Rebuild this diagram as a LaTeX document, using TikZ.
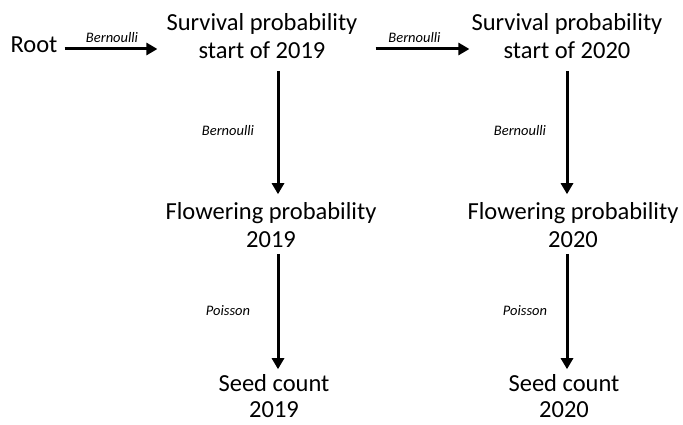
\documentclass[tikz,border=0pt]{standalone}
\usepackage{fontspec}
\setmainfont{Carlito}
\usetikzlibrary{arrows.meta}

\begin{document}
\begin{tikzpicture}[>={Triangle[length=11pt,width=12pt]},x=1pt,y=-1pt,
  lbl/.style={inner sep=0pt,align=center,font=\fontsize{24.5}{28}\selectfont},
  arr/.style={->,line width=3pt},
  dist/.style={font=\fontsize{14.5}{16}\selectfont\itshape}]
\useasboundingbox (0,0) rectangle (683,425);
\node[lbl] (root) at (34,45) {Root};
\node[lbl] (surv19) at (262,36) {Survival probability\\start of 2019};
\node[lbl] (surv20) at (567,36) {Survival probability\\start of 2020};
\node[lbl] (flow19) at (271,225) {Flowering probability\\2019};
\node[lbl] (flow20) at (573,225) {Flowering probability\\2020};
\node[lbl,font=\fontsize{24.5}{26}\selectfont] (seed19) at (274,396) {Seed count\\2019};
\node[lbl,font=\fontsize{24.5}{26}\selectfont] (seed20) at (564,396) {Seed count\\2020};
\coordinate (row) at (0,49);
\coordinate (col19) at (278,0);
\coordinate (col20) at (567,0);
% across
\draw[arr,shorten <=7pt,shorten >=9pt] (root.east |- row) -- (surv19.west |- row)
  node[dist,midway,above=2pt]{Bernoulli};
\draw[arr,shorten <=18pt,shorten >=2pt] (surv19.east |- row) -- (surv20.west |- row)
  node[dist,midway,above=2pt]{Bernoulli};
% down
\draw[arr,shorten <=12pt,shorten >=8pt] (surv19.south -| col19) -- (flow19.north -| col19)
  node[dist,midway,xshift=-50pt]{Bernoulli};
\draw[arr,shorten <=12pt,shorten >=8pt] (surv20.south -| col20) -- (flow20.north -| col20)
  node[dist,midway,xshift=-47pt]{Bernoulli};
\draw[arr,shorten <=6pt,shorten >=5pt] (flow19.south -| col19) -- (seed19.north -| col19)
  node[dist,midway,xshift=-50pt]{Poisson};
\draw[arr,shorten <=6pt,shorten >=5pt] (flow20.south -| col20) -- (seed20.north -| col20)
  node[dist,midway,xshift=-42pt]{Poisson};
\end{tikzpicture}
\end{document}
